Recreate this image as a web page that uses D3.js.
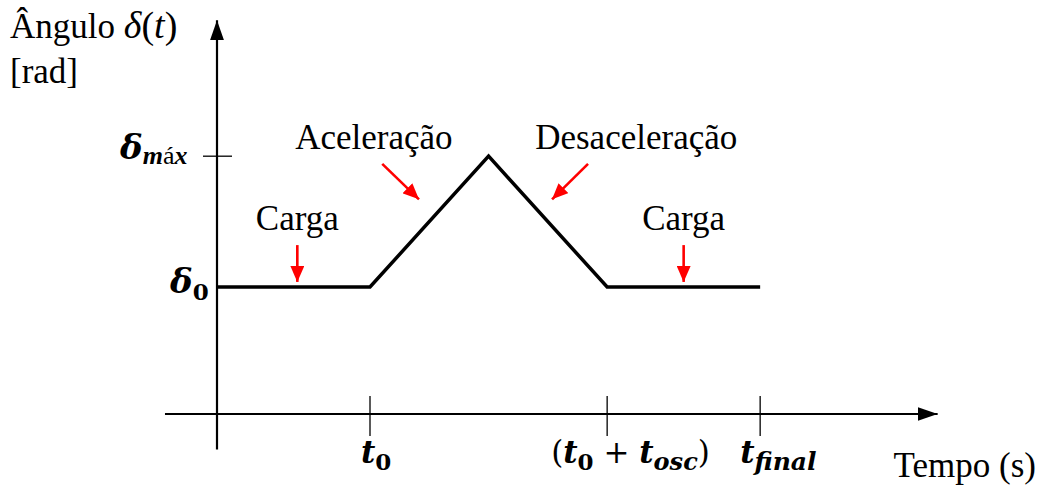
<!DOCTYPE html>
<html>
<head>
<meta charset="utf-8">
<script src="https://cdn.jsdelivr.net/npm/d3@7"></script>
</head>
<body style="margin:0; background:#fff">
<svg width="1046" height="491"></svg>
<script>
// time points of the schematic curve (arbitrary units) and angle values (relative to delta0)
const times = [0, 2, 3.55, 5.1, 7.1];
const angles = [1, 1, 2.03, 1, 1];
// x-axis tick positions (time)
const xTicks = [2, 5.1, 7.1];
// y-axis tick levels
const yLevels = [1, 2.03];
// annotations: label, label position (t, angle), arrow start and end
const notes = [
  { text: "Carga", lx: 1.05, ly: 1.45, a0: [1.05, 1.33], a1: [1.05, 1.04] },
  { text: "Aceleração", lx: 2.05, ly: 2.09, a0: [2.16, 1.97], a1: [2.64, 1.69] },
  { text: "Desaceleração", lx: 5.48, ly: 2.09, a0: [4.85, 1.97], a1: [4.38, 1.69] },
  { text: "Carga", lx: 6.1, ly: 1.45, a0: [6.1, 1.33], a1: [6.1, 1.04] },
];

const SERIF = '"Liberation Serif", "Times New Roman", serif';
const MATH = '"DejaVu Serif", serif';
const FS = 35;
const svg = d3.select("svg");
const x = d3.scaleLinear().domain([0, 1]).range([217, 293.5]);
const y = d3.scaleLinear().domain([0, 1]).range([414, 287]);

const defs = svg.append("defs");
defs.append("marker")
  .attr("id", "axisHead")
  .attr("markerUnits", "userSpaceOnUse")
  .attr("viewBox", "0 0 20 14")
  .attr("refX", 20).attr("refY", 7)
  .attr("markerWidth", 20).attr("markerHeight", 14)
  .attr("orient", "auto")
  .append("path").attr("d", "M0,0 L20,7 L0,14 Z").attr("fill", "#000");
defs.append("marker")
  .attr("id", "redHead")
  .attr("markerUnits", "userSpaceOnUse")
  .attr("viewBox", "0 0 16 14")
  .attr("refX", 16).attr("refY", 7)
  .attr("markerWidth", 16).attr("markerHeight", 14)
  .attr("orient", "auto")
  .append("path").attr("d", "M0,0 L16,7 L0,14 Z").attr("fill", "#ff0000");

// axes
svg.append("line")
  .attr("x1", x(-0.68)).attr("y1", y(0)).attr("x2", x(9.42)).attr("y2", y(0))
  .attr("stroke", "#000").attr("stroke-width", 2.2)
  .attr("marker-end", "url(#axisHead)");
svg.append("line")
  .attr("x1", x(0)).attr("y1", y(-0.28)).attr("x2", x(0)).attr("y2", y(3.1))
  .attr("stroke", "#000").attr("stroke-width", 2.2)
  .attr("marker-end", "url(#axisHead)");

// x ticks
svg.selectAll(".xt").data(xTicks).join("line")
  .attr("class", "xt")
  .attr("x1", d => x(d)).attr("x2", d => x(d))
  .attr("y1", y(0) - 18).attr("y2", y(0) + 22)
  .attr("stroke", "#000").attr("stroke-width", 1.3);

// delta max tick
svg.append("line")
  .attr("x1", x(0) - 14).attr("x2", x(0) + 15)
  .attr("y1", y(yLevels[1])).attr("y2", y(yLevels[1]))
  .attr("stroke", "#000").attr("stroke-width", 1.3);

// curve
svg.append("path")
  .datum(times.map((t, i) => [t, angles[i]]))
  .attr("d", d3.line().x(d => x(d[0])).y(d => y(d[1])))
  .attr("fill", "none").attr("stroke", "#000").attr("stroke-width", 3.5)
  .attr("stroke-linejoin", "miter");

// annotations
svg.selectAll(".note").data(notes).join("text")
  .attr("class", "note")
  .attr("x", d => x(d.lx)).attr("y", d => y(d.ly))
  .attr("text-anchor", "middle").attr("font-size", FS)
  .style("font-family", SERIF)
  .text(d => d.text);
svg.selectAll(".narrow").data(notes).join("line")
  .attr("class", "narrow")
  .attr("x1", d => x(d.a0[0])).attr("y1", d => y(d.a0[1]))
  .attr("x2", d => x(d.a1[0])).attr("y2", d => y(d.a1[1]))
  .attr("stroke", "#ff0000").attr("stroke-width", 2.6)
  .attr("marker-end", "url(#redHead)");

// y axis title
const yt = svg.append("text").attr("x", 10).attr("y", 38).attr("font-size", FS)
  .style("font-family", SERIF);
yt.append("tspan").text("Ângulo ");
yt.append("tspan").attr("font-style", "italic").attr("font-size", 38).text("δ");
yt.append("tspan").attr("font-size", 38).text("(");
yt.append("tspan").attr("font-style", "italic").attr("font-size", 38).text("t");
yt.append("tspan").attr("font-size", 38).text(")");
svg.append("text").attr("x", 10).attr("y", 83).attr("font-size", FS)
  .style("font-family", SERIF).text("[rad]");

// x axis title
svg.append("text").attr("x", 1036).attr("y", 477).attr("text-anchor", "end")
  .attr("font-size", FS).style("font-family", SERIF).text("Tempo (s)");

// math labels (bold italic, subscripts)
const mathText = (px, py, size) => svg.append("text")
  .attr("x", px).attr("y", py).attr("font-size", size)
  .attr("font-weight", "bold").attr("font-style", "italic")
  .style("font-family", MATH);
const up = s => s.attr("font-weight", "normal").attr("font-style", "normal");

const dmax = mathText(120, y(yLevels[1]) + 3, 34);
dmax.append("tspan").text("δ");
const sm = dmax.append("tspan").attr("font-size", 26).attr("dy", 5)
  .style("font-family", SERIF);
sm.append("tspan").text("m");
up(sm.append("tspan")).text("á");
sm.append("tspan").text("x");

const d0 = mathText(170, y(yLevels[0]) + 6, 34);
d0.append("tspan").text("δ");
d0.append("tspan").attr("font-size", 23).attr("dy", 7).attr("font-style", "normal").text("0");

const lt0 = mathText(x(xTicks[0]) - 9, 463, 31);
lt0.append("tspan").text("t");
lt0.append("tspan").attr("font-size", 23).attr("dy", 7).attr("font-style", "normal").text("0");

const lt1 = mathText(x(xTicks[1]) - 56, 463, 31);
up(lt1.append("tspan")).text("(");
lt1.append("tspan").text("t");
lt1.append("tspan").attr("font-size", 23).attr("dy", 7).attr("font-style", "normal").text("0");
up(lt1.append("tspan").attr("dy", -7)).text(" + ");
lt1.append("tspan").text("t");
lt1.append("tspan").attr("font-size", 24).attr("dy", 7).text("osc");
up(lt1.append("tspan").attr("dy", -7)).text(")");

const lt2 = mathText(x(xTicks[2]) - 20, 463, 31);
lt2.append("tspan").text("t");
lt2.append("tspan").attr("font-size", 25).attr("dy", 7).text("final");
</script>
</body>
</html>
